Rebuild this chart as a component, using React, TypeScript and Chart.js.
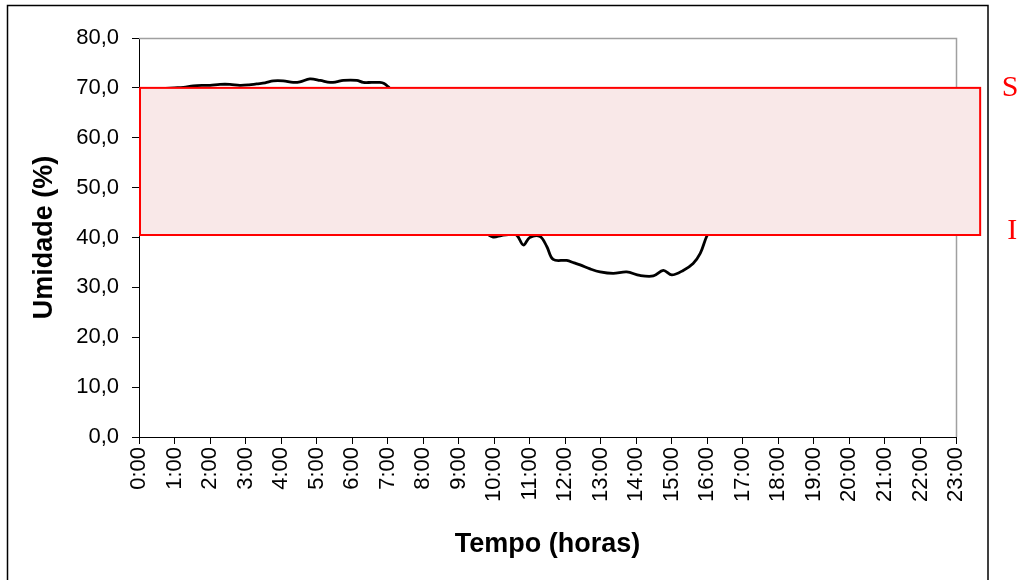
import React, { useEffect, useRef } from "react";
import { Chart, registerables } from "chart.js";

Chart.register(...registerables);

const hourLabels = [
  "0:00", "1:00", "2:00", "3:00", "4:00", "5:00", "6:00", "7:00", "8:00", "9:00", "10:00", "11:00",
  "12:00", "13:00", "14:00", "15:00", "16:00", "17:00", "18:00", "19:00", "20:00", "21:00", "22:00", "23:00",
];

const timeHours = [
  0, 0.25, 0.5, 0.75, 1.0, 1.25, 1.53, 1.8, 2.0, 2.28, 2.56, 2.84, 3.1, 3.31, 3.55, 3.78, 4.06, 4.34,
  4.53, 4.81, 5.1, 5.38, 5.55, 5.75, 6.13, 6.31, 6.55, 6.78, 6.9, 7.02, 7.25, 7.5, 7.75, 8.0, 8.25,
  8.5, 8.75, 9.0, 9.25, 9.5, 9.75, 9.97, 10.2, 10.4, 10.63, 10.82, 11.0, 11.29, 11.48, 11.66, 12.04,
  12.25, 12.42, 12.7, 12.98, 13.35, 13.73, 14.1, 14.48, 14.76, 15.0, 15.32, 15.6, 15.8, 15.98, 16.2,
];

const humidity = [
  69.6, 69.7, 69.8, 69.9, 70.0, 70.1, 70.4, 70.5, 70.5, 70.7, 70.7, 70.5, 70.6, 70.8, 71.0, 71.4, 71.4, 71.1,
  71.2, 71.8, 71.5, 71.1, 71.2, 71.5, 71.5, 71.1, 71.1, 71.1, 70.9, 70.2, 68.5, 66.0, 63.0, 60.0, 57.0,
  54.0, 51.0, 48.0, 45.5, 43.0, 41.0, 40.1, 40.4, 40.6, 40.5, 38.5, 40.0, 40.2, 38.2, 35.6, 35.4,
  34.9, 34.5, 33.7, 33.1, 32.8, 33.1, 32.4, 32.3, 33.4, 32.5, 33.4, 34.8, 36.8, 40.2, 43.0,
];

const bandLow = 40.5;
const bandHigh = 70;
const bandStart = 0;
const bandEnd = 23.68;
const bandLabels = ["S", "I"];

const chartPlugin = {
  id: "decor",
  beforeDraw(chart: any) {
    const ctx = chart.ctx;
    ctx.save();
    ctx.fillStyle = "#ffffff";
    ctx.fillRect(0, 0, chart.width, chart.height);
    ctx.strokeStyle = "#000000";
    ctx.lineWidth = 1.5;
    ctx.strokeRect(7.5, 5.5, 980.5, 600);
    ctx.restore();
  },
  beforeDatasetsDraw(chart: any) {
    const { ctx, chartArea } = chart;
    ctx.save();
    ctx.strokeStyle = "#a0a0a0";
    ctx.lineWidth = 1.5;
    ctx.beginPath();
    ctx.moveTo(chartArea.left, chartArea.top + 0.5);
    ctx.lineTo(chartArea.right + 0.5, chartArea.top + 0.5);
    ctx.lineTo(chartArea.right + 0.5, chartArea.bottom);
    ctx.stroke();
    ctx.restore();
  },
  afterDatasetsDraw(chart: any) {
    const { ctx } = chart;
    const xs = chart.scales.x;
    const ys = chart.scales.y;
    const x0 = xs.getPixelForValue(bandStart);
    const x1 = xs.getPixelForValue(bandEnd);
    const y0 = ys.getPixelForValue(bandHigh);
    const y1 = ys.getPixelForValue(bandLow);
    ctx.save();
    ctx.fillStyle = "rgb(249,232,232)";
    ctx.fillRect(x0, y0, x1 - x0, y1 - y0);
    ctx.strokeStyle = "#ff0000";
    ctx.lineWidth = 2;
    ctx.strokeRect(x0 + 1, y0, x1 - x0 - 1, y1 - y0);
    ctx.fillStyle = "#ff0000";
    ctx.font = "30px 'Liberation Serif', 'Times New Roman', serif";
    ctx.textAlign = "center";
    ctx.textBaseline = "alphabetic";
    ctx.fillText(bandLabels[0], x1 + 30, y0 + 8);
    ctx.fillText(bandLabels[1], x1 + 32, y1 + 4);
    ctx.restore();
  },
};

export default function App() {
  const canvasRef = useRef<HTMLCanvasElement | null>(null);

  useEffect(() => {
    if (!canvasRef.current) return;
    const points = timeHours.map((t, i) => ({ x: t, y: humidity[i] }));
    const chart = new Chart(canvasRef.current, {
      type: "line",
      data: {
        datasets: [
          {
            data: points,
            borderColor: "#000000",
            borderWidth: 2.8,
            pointRadius: 0,
            tension: 0.35,
            fill: false,
          },
        ],
      },
      options: {
        animation: false,
        responsive: false,
        devicePixelRatio: 1,
        layout: { padding: { top: 38, right: 66, bottom: 0, left: 0 } },
        plugins: { legend: { display: false }, tooltip: { enabled: false } },
        scales: {
          x: {
            type: "linear",
            min: 0,
            max: 23,
            afterFit: (s: any) => {
              s.height = 143;
            },
            afterBuildTicks: (s: any) => {
              s.ticks = hourLabels.map((_, i) => ({ value: i }));
            },
            ticks: {
              autoSkip: false,
              maxRotation: 90,
              minRotation: 90,
              padding: 3,
              color: "#000000",
              font: { family: "'Liberation Sans', Arial, sans-serif", size: 22 },
              callback: (v: any) => hourLabels[Math.round(Number(v))] ?? "",
            },
            grid: { drawOnChartArea: false, drawTicks: true, tickLength: 7, color: "#000000" },
            border: { display: true, color: "#000000", width: 1 },
            title: {
              display: true,
              text: "Tempo (horas)",
              color: "#000000",
              font: { family: "'Liberation Sans', Arial, sans-serif", size: 27, weight: "bold" },
              padding: { top: 0, bottom: 19 },
            },
          },
          y: {
            min: 0,
            max: 80,
            afterFit: (s: any) => {
              s.width = 139;
            },
            ticks: {
              stepSize: 10,
              padding: 13,
              color: "#000000",
              font: { family: "'Liberation Sans', Arial, sans-serif", size: 22 },
              callback: (v: any) => Number(v).toFixed(1).replace(".", ","),
            },
            grid: { drawOnChartArea: false, drawTicks: true, tickLength: 7, color: "#000000" },
            border: { display: true, color: "#000000", width: 1 },
            title: {
              display: true,
              text: "Umidade (%)",
              color: "#000000",
              font: { family: "'Liberation Sans', Arial, sans-serif", size: 27, weight: "bold" },
              padding: { top: 28, bottom: 0 },
            },
          },
        },
      },
      plugins: [chartPlugin],
    });
    return () => chart.destroy();
  }, []);

  return (
    <div style={{ position: "absolute", left: 0, top: 0, width: 1022, height: 580 }}>
      <canvas ref={canvasRef} width={1022} height={580} />
    </div>
  );
}
